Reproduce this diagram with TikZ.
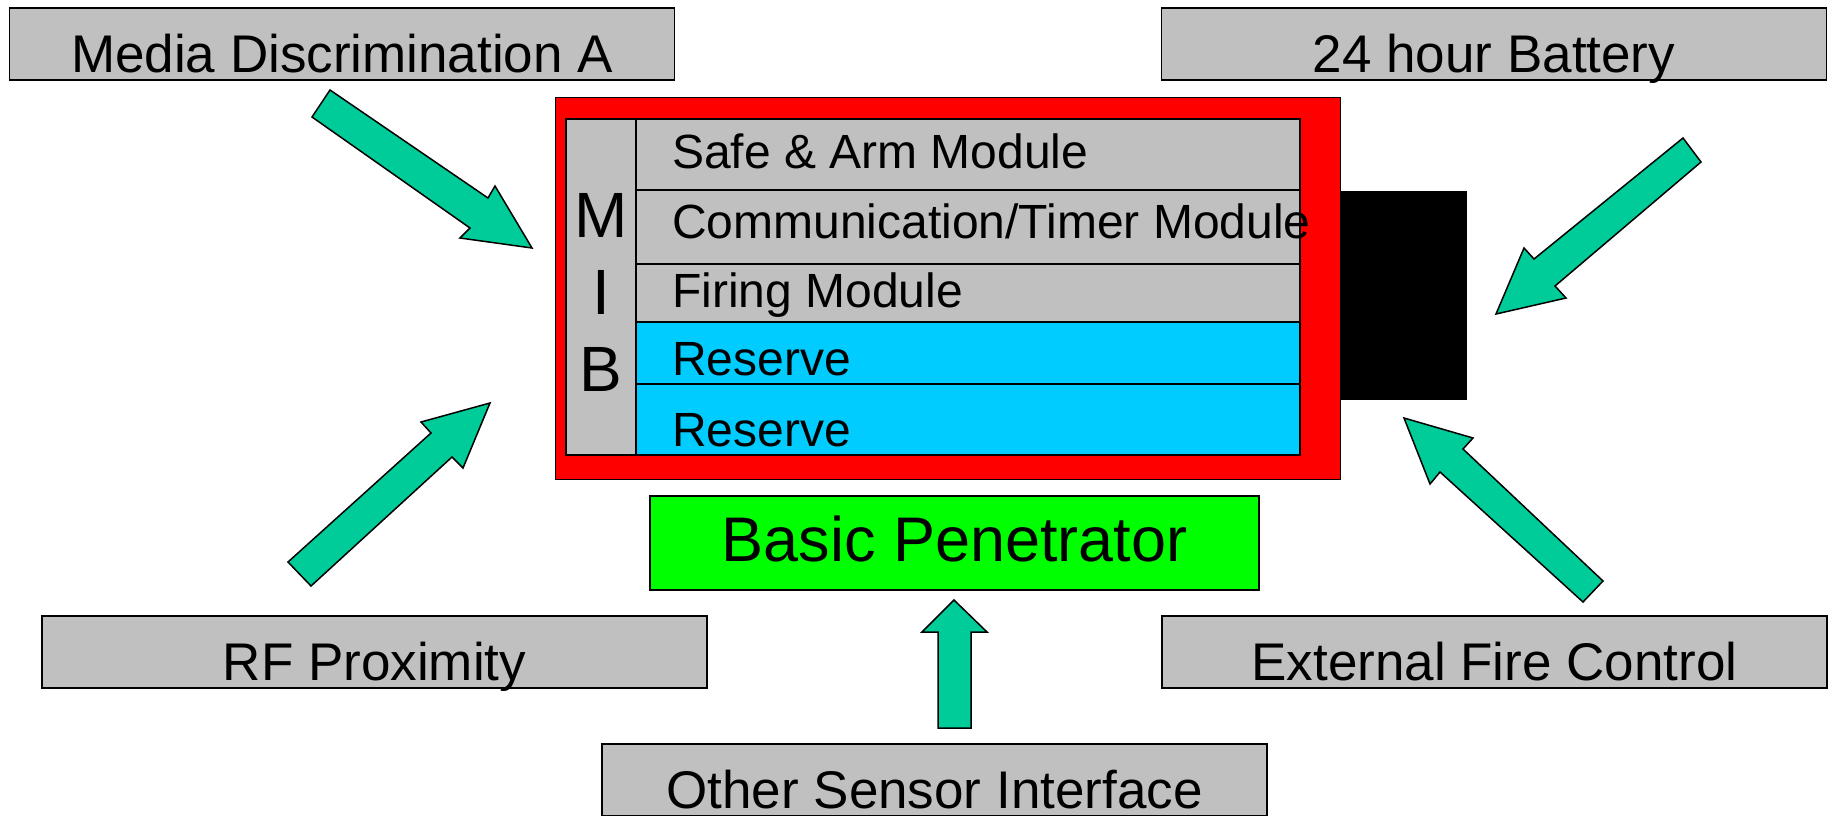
\documentclass[tikz,border=0pt]{standalone}
\usepackage{fontspec}
\setmainfont{Liberation Sans}
\usetikzlibrary{positioning}

\definecolor{boxgray}{HTML}{C0C0C0}
\definecolor{arrowgreen}{HTML}{00CC99}
\definecolor{casered}{HTML}{FF0000}
\definecolor{reservecyan}{HTML}{00CCFF}
\definecolor{penegreen}{HTML}{00FF00}

\tikzset{
    outbox/.style={draw, fill=boxgray, line width=1.5pt, inner sep=0pt,
        minimum width=665pt, text height=64pt, text depth=8pt,
        font=\fontsize{53}{60}\selectfont},
    blockarrow/.style={draw, fill=arrowgreen, line width=1.5pt, line join=miter},
    modtext/.style={anchor=base west, inner sep=0pt, font=\fontsize{48}{56}\selectfont}
}

\begin{document}
\begin{tikzpicture}[x=1pt, y=-1pt]
\useasboundingbox (0,0) rectangle (1831,815);

% inputs round the penetrator
\node[outbox] (media) at (342,44) {Media Discrimination A};
\node[outbox] (battery) at (1494,44) {24 hour Battery};
\node[outbox] (rfprox) at (374.5,652) {RF Proximity};
\node[outbox] (extfire) at (1494.5,652) {External Fire Control};
\node[outbox] (othersensor) at (934.5,780) {Other Sensor Interface};

% case and plug
\node[draw, fill=casered, line width=1pt, inner sep=0pt,
    minimum width=785pt, minimum height=382pt] (case) at (947.5,288) {};
\node[fill=black, inner sep=0pt, minimum width=127pt, minimum height=209pt] (plug) at (1403.5,295.5) {};

% module stack
\draw[fill=boxgray, line width=1.5pt] (566,119) rectangle (636,455);
\node[align=center, inner sep=0pt, font=\fontsize{64}{77}\selectfont] (mib) at (601,292.5) {M\\I\\B};
\foreach \ya/\yb/\base/\col/\txt [count=\i] in {
    119/190/168/boxgray/{Safe \& Arm Module},
    190/264/238/boxgray/{Communication/Timer Module},
    264/322/307/boxgray/{Firing Module},
    322/384/375/reservecyan/{Reserve},
    384/455/446/reservecyan/{Reserve}}
{
    \draw[fill=\col, line width=1.5pt] (636,\ya) rectangle (1300,\yb);
    \node[modtext] (row\i) at (672,\base) {\txt};
}

\node[draw, fill=penegreen, line width=1.5pt, inner sep=0pt, minimum width=609pt,
    text height=65pt, text depth=29pt, font=\fontsize{63}{70}\selectfont] (pene) at (954.5,543) {Basic Penetrator};

% block arrows
\draw[blockarrow] (330,90) -- (488,198) -- (495,186) -- (532,248) -- (460,238) -- (470,228) -- (312,117) -- cycle;
\draw[blockarrow] (1683,138) -- (1534,259) -- (1524,248) -- (1496,314) -- (1566,298) -- (1555,286) -- (1701,162) -- cycle;
\draw[blockarrow] (288,562) -- (431,433) -- (421,422) -- (490,403) -- (463,468) -- (452,457) -- (311,586) -- cycle;
\draw[blockarrow] (1603,581) -- (1463,449) -- (1473,438) -- (1404,418) -- (1430,484) -- (1440,472) -- (1583,602) -- cycle;
\draw[blockarrow] (938,728) -- (938,632) -- (922,632) -- (954,600) -- (987,632) -- (971,632) -- (971,728) -- cycle;
\end{tikzpicture}
\end{document}
